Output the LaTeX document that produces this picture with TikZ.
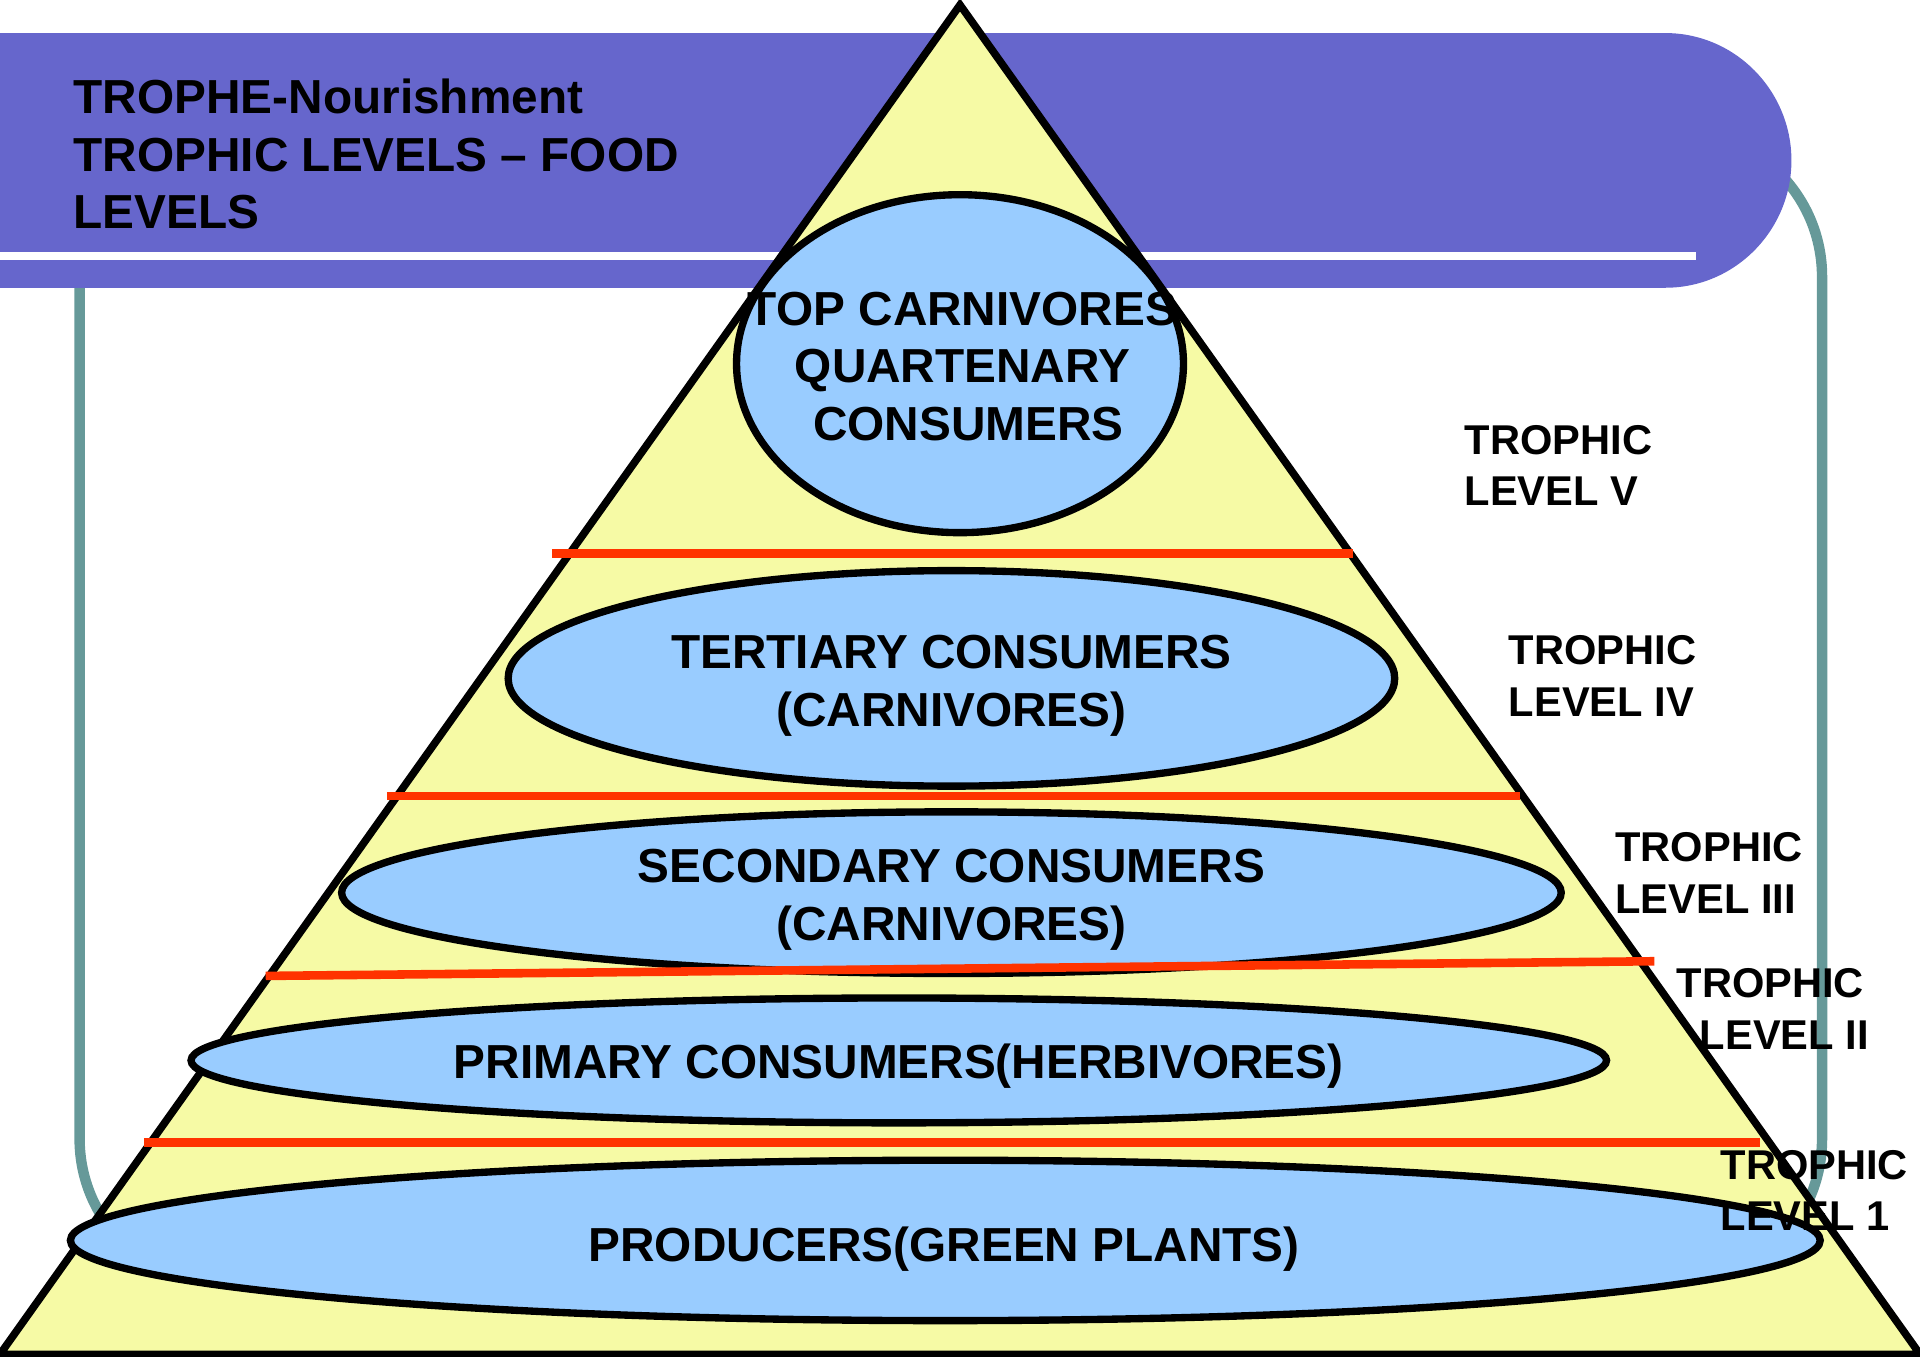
\documentclass[tikz,border=0pt]{standalone}
\usepackage{fontspec}
\setmainfont{Liberation Sans}
\usepackage{tikz}
\usetikzlibrary{shapes}
\definecolor{bandblue}{RGB}{102,102,204}
\definecolor{paleyellow}{RGB}{246,250,165}
\definecolor{skyblue}{RGB}{153,204,255}
\definecolor{redline}{RGB}{255,51,0}
\definecolor{frameteal}{RGB}{102,153,153}
\tikzstyle{tier} = [draw, ellipse, fill=skyblue, line width=6pt, inner sep=0pt]
\tikzstyle{tiertext} = [align=center, inner sep=0pt, font=\bfseries\fontsize{39}{47}\selectfont]
\tikzstyle{troph} = [anchor=west, align=left, inner sep=0pt, font=\bfseries\fontsize{34}{42}\selectfont]
\tikzstyle{divider} = [redline, line width=7pt]

\begin{document}
\begin{tikzpicture}[x=1pt, y=-1pt]
  \useasboundingbox (0,0) rectangle (1568,1108);
  \draw [frameteal, line width=8.5pt, rounded corners=120pt] (65,106) rectangle (1488,1050);
  \fill [bandblue] (0,27) -- (1360,27) .. controls (1417,27) and (1463,74) .. (1463,131)
    .. controls (1463,188) and (1417,235) .. (1360,235) -- (0,235) -- cycle;
  \fill [white] (0,206) rectangle (1385,212);
  \draw [fill=paleyellow, line width=6.2pt] (0,1106) -- (784,4) -- (1568,1106) -- cycle;

  \node [tier, minimum width=365pt, minimum height=276pt] (e5) at (784,297) {};
  \node [tier, minimum width=724pt, minimum height=176pt] (e4) at (777,554) {};
  \node [tier, minimum width=996pt, minimum height=132pt] (e3) at (777,729) {};
  \node [tier, minimum width=1156pt, minimum height=102pt] (e2) at (734,866) {};
  \node [tier, minimum width=1429pt, minimum height=131pt] (e1) at (772,1013) {};

  \draw [divider] (451,452) -- (1105,452);
  \draw [divider] (316,650) -- (1241,650);
  \draw [divider] (217,797) -- (1351,785);
  \draw [divider] (118,933) -- (1437,933);

  \node [anchor=west, align=left, inner sep=0pt, font=\bfseries\fontsize{39}{47}\selectfont] (title) at (60,126)
    {TROPHE-Nourishment\\TROPHIC LEVELS – FOOD\\LEVELS};

  \node [tiertext] (t5) at (786,299) {TOP CARNIVORES\\QUARTENARY\\\hspace*{10pt}CONSUMERS};
  \node [tiertext] (t4) at (777,560) {TERTIARY CONSUMERS\\(CARNIVORES)};
  \node [tiertext] (t3) at (777,735) {SECONDARY CONSUMERS\\(CARNIVORES)};
  \node [tiertext] (t2) at (734,871) {PRIMARY CONSUMERS(HERBIVORES)};
  \node [tiertext] (t1) at (771,1020) {PRODUCERS(GREEN PLANTS)};

  \node [troph] (l5) at (1196,380) {TROPHIC\\LEVEL V};
  \node [troph] (l4) at (1232,552) {TROPHIC\\LEVEL IV};
  \node [troph] (l3) at (1319,713) {TROPHIC\\LEVEL III};
  \node [troph] (l2) at (1369,824) {TROPHIC\\\hspace*{19pt}LEVEL II};
  \node [troph] (l1) at (1405,972) {TROPHIC\\LEVEL 1};
\end{tikzpicture}
\end{document}
